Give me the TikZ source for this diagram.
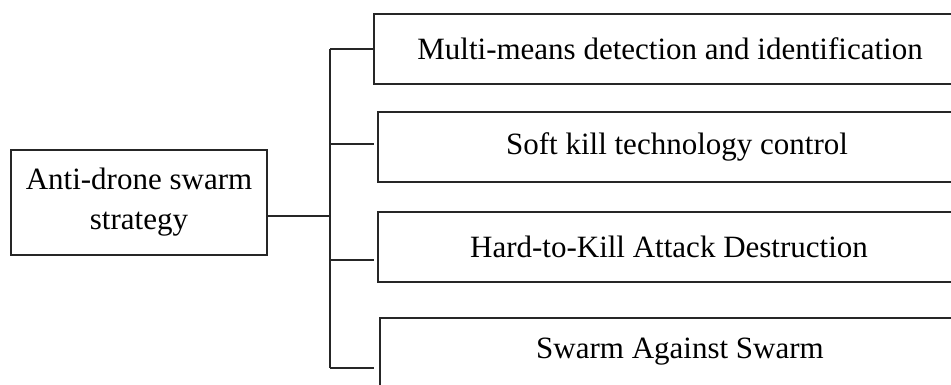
\documentclass[tikz,border=0pt]{standalone}
\usepackage{fontspec}
\setmainfont{Liberation Serif}
\begin{document}
\begin{tikzpicture}[x=1pt,y=-1pt,
  box/.style={draw=black!85, line width=1.6pt, inner sep=0pt, minimum height=70pt, font=\fontsize{31}{40}\selectfont},
  wire/.style={draw=black!85, line width=1.6pt}]
\def\xt{330};
\def\ya{49};
\def\yb{144};
\def\yc{260};
\def\yd{368};

\useasboundingbox (0,0) rectangle (951,385);
\clip (0,0) rectangle (951,385);

\node[box, minimum width=256pt, minimum height=105pt, align=center] (root) at (139, 202.5) {Anti-drone swarm\\strategy};

\node[box, minimum width=592pt] (m1) at (670, 49) {Multi-means detection and identification};
\node[box, minimum width=598pt] (m2) at (677, 147) {Soft kill technology control};
\node[box, minimum width=582pt] (m3) at (669, 247) {Hard-to-Kill Attack Destruction};
\node[box, minimum width=600pt, minimum height=68pt] (m4) at (680, 352) {Swarm Against Swarm};

\coordinate (j) at (\xt, 216);
\coordinate (ta) at (\xt, \ya);
\coordinate (tb) at (\xt, \yb);
\coordinate (tc) at (\xt, \yc);
\coordinate (td) at (\xt, \yd);

\draw[wire] (root.east |- j) -- (j);
\draw[wire] (ta) -- (td);
\draw[wire] (ta) -- (m1.west |- ta);
\draw[wire] (tb) -- ([xshift=-3pt]m2.west |- tb);
\draw[wire] (tc) -- ([xshift=-3pt]m3.west |- tc);
\draw[wire] (td) -- ([xshift=-5pt]m4.west |- td);

\end{tikzpicture}
\end{document}
